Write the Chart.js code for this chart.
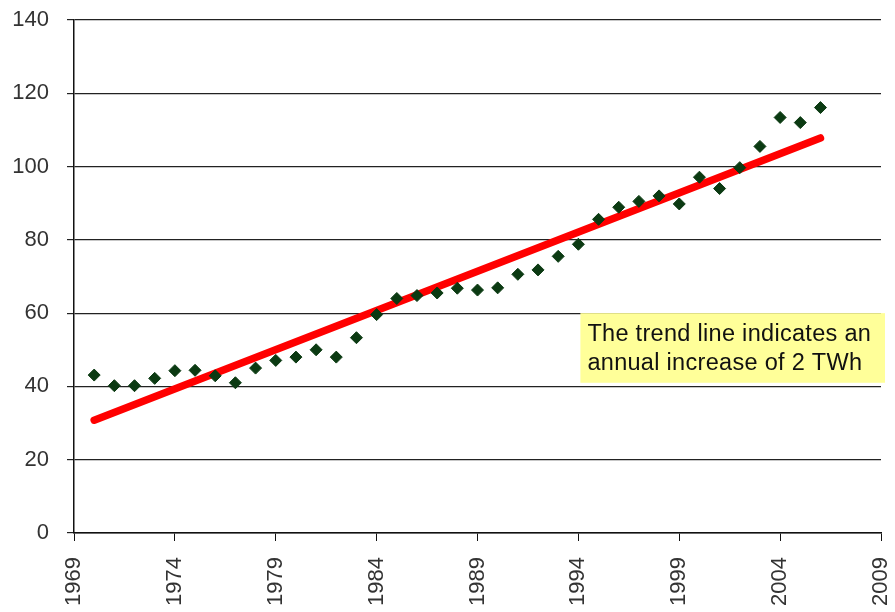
<!DOCTYPE html>
<html>
<head>
<meta charset="utf-8">
<title>Annual consumption with trend</title>
<script src="https://cdn.jsdelivr.net/npm/chart.js@4.4.1/dist/chart.umd.min.js"></script>
<style>
  html, body { margin: 0; padding: 0; background: #ffffff; }
  #wrap { width: 895px; height: 612px; position: relative; }
</style>
</head>
<body>
<div id="wrap"><canvas id="chart"></canvas></div>
<script>
// Yearly values (TWh)
const years = [1970, 1971, 1972, 1973, 1974, 1975, 1976, 1977, 1978, 1979,
               1980, 1981, 1982, 1983, 1984, 1985, 1986, 1987, 1988, 1989,
               1990, 1991, 1992, 1993, 1994, 1995, 1996, 1997, 1998, 1999,
               2000, 2001, 2002, 2003, 2004, 2005, 2006];
const values = [43.1, 40.2, 40.2, 42.2, 44.3, 44.4, 42.9, 41.0, 45.0, 47.1,
                48.0, 50.0, 48.0, 53.3, 59.6, 64.0, 64.8, 65.5, 66.8, 66.3,
                66.9, 70.6, 71.8, 75.5, 78.8, 85.6, 88.9, 90.5, 92.0, 89.8,
                97.1, 94.0, 99.7, 105.5, 113.4, 112.0, 116.1];

// Linear trend line end points
const trendYears = [1970, 2006];
const trendValues = [30.8, 107.8];

// Axis ticks
const xTickYears = [1969, 1974, 1979, 1984, 1989, 1994, 1999, 2004, 2009];
const yTickValues = [0, 20, 40, 60, 80, 100, 120, 140];

const noteLines = ['The trend line indicates an', 'annual increase of 2 TWh'];

const FONT = '"Liberation Sans", Arial, sans-serif';

// Yellow note box drawn over the plot
const notePlugin = {
  id: 'noteBox',
  afterDraw(chart) {
    const { ctx, scales: { x, y } } = chart;
    const left = x.getPixelForValue(1994.1);
    const top = y.getPixelForValue(60);
    const right = chart.chartArea.right + 4;
    const bottom = y.getPixelForValue(41);
    ctx.save();
    ctx.fillStyle = '#ffff99';
    ctx.fillRect(left, top, right - left, bottom - top);
    ctx.fillStyle = '#111111';
    ctx.font = '23.5px ' + FONT;
    ctx.letterSpacing = '0.3px';
    ctx.textBaseline = 'middle';
    ctx.textAlign = 'left';
    const lh = 29;
    const cy = (top + bottom) / 2 + 1;
    ctx.fillText(noteLines[0], left + 7, cy - lh / 2);
    ctx.fillText(noteLines[1], left + 7, cy + lh / 2);
    ctx.restore();
  }
};

new Chart(document.getElementById('chart'), {
  type: 'scatter',
  data: {
    datasets: [
      {
        label: 'Trend',
        type: 'line',
        data: trendYears.map((yr, i) => ({ x: yr, y: trendValues[i] })),
        borderColor: '#ff0000',
        borderWidth: 7.5,
        borderCapStyle: 'round',
        pointRadius: 0,
        fill: false,
        order: 2
      },
      {
        label: 'TWh',
        data: years.map((yr, i) => ({ x: yr, y: values[i] })),
        pointStyle: 'rectRot',
        pointRadius: 6,
        pointBackgroundColor: '#0b3a12',
        pointBorderColor: '#0b3a12',
        pointBorderWidth: 1,
        order: 1
      }
    ]
  },
  options: {
    responsive: true,
    maintainAspectRatio: false,
    animation: false,
    devicePixelRatio: 1,
    layout: { padding: { left: 0, right: 14, top: 20, bottom: 0 } },
    plugins: {
      legend: { display: false },
      tooltip: { enabled: false }
    },
    scales: {
      x: {
        type: 'linear',
        min: 1969,
        max: 2009,
        afterBuildTicks(scale) { scale.ticks = xTickYears.map(v => ({ value: v })); },
        afterFit(scale) {
          scale.height = 79;
          scale.paddingLeft = 0;
          scale.paddingRight = 0;
        },
        grid: {
          drawOnChartArea: false,
          drawTicks: true,
          tickLength: 8,
          color: '#111111',
          lineWidth: 1
        },
        border: { display: true, color: '#111111', width: 1.5 },
        ticks: {
          minRotation: 90,
          maxRotation: 90,
          padding: 16,
          color: '#333333',
          font: { family: FONT, size: 22 },
          callback: v => String(v)
        }
      },
      y: {
        min: 0,
        max: 140,
        afterBuildTicks(scale) { scale.ticks = yTickValues.map(v => ({ value: v })); },
        afterFit(scale) {
          scale.width = 74;
          scale.paddingTop = 0;
          scale.paddingBottom = 0;
        },
        grid: {
          drawOnChartArea: true,
          drawTicks: true,
          tickLength: 7,
          color: '#222222',
          lineWidth: 1.2
        },
        border: { display: true, color: '#111111', width: 1.5 },
        ticks: {
          padding: 18,
          color: '#333333',
          font: { family: FONT, size: 22 },
          callback: v => String(v)
        }
      }
    }
  },
  plugins: [notePlugin]
});
</script>
</body>
</html>
